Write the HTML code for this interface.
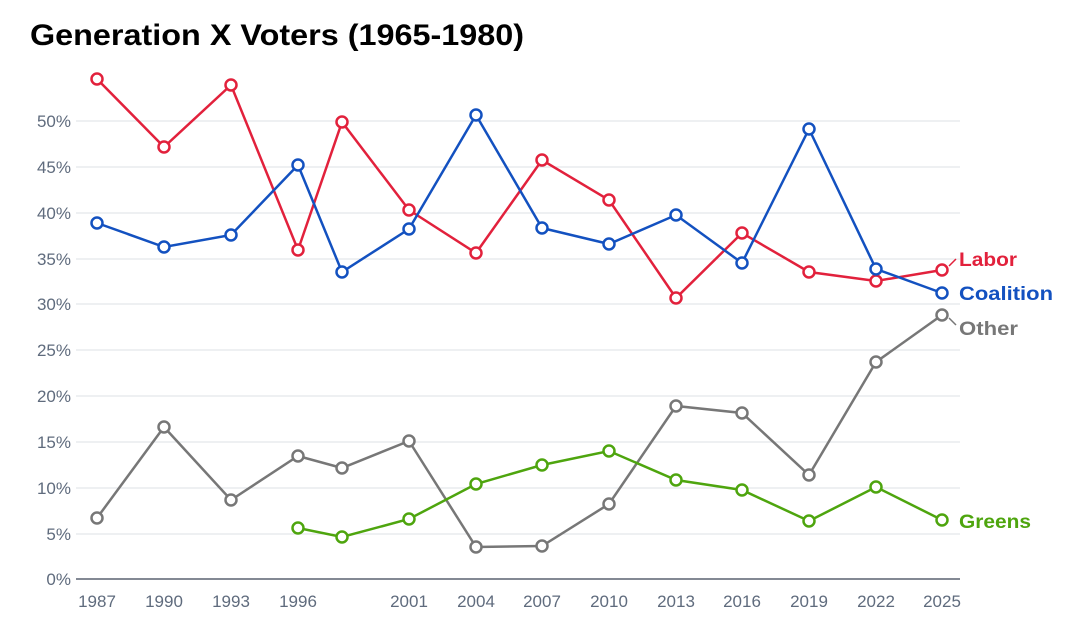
<!DOCTYPE html>
<html><head><meta charset="utf-8"><style>
html,body{margin:0;padding:0;background:#fff;}
svg{display:block;font-family:"Liberation Sans",sans-serif;}
</style></head><body>
<svg width="1080" height="630" viewBox="0 0 1080 630">
<text x="30" y="45" font-size="30" font-weight="bold" fill="#000" textLength="494" lengthAdjust="spacingAndGlyphs">Generation X Voters (1965-1980)</text>
<g stroke="#dde0e6" stroke-width="1">
<line x1="76" x2="960" y1="121" y2="121"/><line x1="76" x2="960" y1="167" y2="167"/>
<line x1="76" x2="960" y1="213" y2="213"/><line x1="76" x2="960" y1="259" y2="259"/>
<line x1="76" x2="960" y1="304" y2="304"/><line x1="76" x2="960" y1="350" y2="350"/>
<line x1="76" x2="960" y1="396" y2="396"/><line x1="76" x2="960" y1="442" y2="442"/>
<line x1="76" x2="960" y1="488" y2="488"/><line x1="76" x2="960" y1="534" y2="534"/>
</g>
<line x1="76" x2="960" y1="579" y2="579" stroke="#5a6270" stroke-width="1.5"/>
<g font-size="17" fill="#5f6b7d" text-anchor="end">
<text x="71" y="127">50%</text><text x="71" y="173">45%</text><text x="71" y="219">40%</text>
<text x="71" y="265">35%</text><text x="71" y="310">30%</text><text x="71" y="356">25%</text>
<text x="71" y="402">20%</text><text x="71" y="448">15%</text><text x="71" y="494">10%</text>
<text x="71" y="540">5%</text><text x="71" y="585">0%</text>
</g>
<g font-size="17" fill="#5f6b7d" text-anchor="middle">
<text x="97" y="607">1987</text><text x="164" y="607">1990</text><text x="231" y="607">1993</text>
<text x="298" y="607">1996</text><text x="409" y="607">2001</text><text x="476" y="607">2004</text>
<text x="542" y="607">2007</text><text x="609" y="607">2010</text><text x="676" y="607">2013</text>
<text x="742" y="607">2016</text><text x="809" y="607">2019</text><text x="876" y="607">2022</text>
<text x="942" y="607">2025</text>
</g>
<g fill="#fff" stroke-width="2.5">
<g stroke="#777">
<polyline fill="none" points="97,518 164,427 231,500 298,456 342,468 409,441 476,547 542,546 609,504 676,406 742,413 809,475 876,362 942,315"/>
<circle cx="97" cy="518" r="5.5"/><circle cx="164" cy="427" r="5.5"/><circle cx="231" cy="500" r="5.5"/><circle cx="298" cy="456" r="5.5"/><circle cx="342" cy="468" r="5.5"/><circle cx="409" cy="441" r="5.5"/><circle cx="476" cy="547" r="5.5"/><circle cx="542" cy="546" r="5.5"/><circle cx="609" cy="504" r="5.5"/><circle cx="676" cy="406" r="5.5"/><circle cx="742" cy="413" r="5.5"/><circle cx="809" cy="475" r="5.5"/><circle cx="876" cy="362" r="5.5"/><circle cx="942" cy="315" r="5.5"/>
</g>
<g stroke="#4ea50e">
<polyline fill="none" points="298,528 342,537 409,519 476,484 542,465 609,451 676,480 742,490 809,521 876,487 942,520"/>
<circle cx="298" cy="528" r="5.5"/><circle cx="342" cy="537" r="5.5"/><circle cx="409" cy="519" r="5.5"/><circle cx="476" cy="484" r="5.5"/><circle cx="542" cy="465" r="5.5"/><circle cx="609" cy="451" r="5.5"/><circle cx="676" cy="480" r="5.5"/><circle cx="742" cy="490" r="5.5"/><circle cx="809" cy="521" r="5.5"/><circle cx="876" cy="487" r="5.5"/><circle cx="942" cy="520" r="5.5"/>
</g>
<g stroke="#e2213c">
<polyline fill="none" points="97,79 164,147 231,85 298,250 342,122 409,210 476,253 542,160 609,200 676,298 742,233 809,272 876,281 942,270"/>
<circle cx="97" cy="79" r="5.5"/><circle cx="164" cy="147" r="5.5"/><circle cx="231" cy="85" r="5.5"/><circle cx="298" cy="250" r="5.5"/><circle cx="342" cy="122" r="5.5"/><circle cx="409" cy="210" r="5.5"/><circle cx="476" cy="253" r="5.5"/><circle cx="542" cy="160" r="5.5"/><circle cx="609" cy="200" r="5.5"/><circle cx="676" cy="298" r="5.5"/><circle cx="742" cy="233" r="5.5"/><circle cx="809" cy="272" r="5.5"/><circle cx="876" cy="281" r="5.5"/><circle cx="942" cy="270" r="5.5"/>
</g>
<g stroke="#1351c0">
<polyline fill="none" points="97,223 164,247 231,235 298,165 342,272 409,229 476,115 542,228 609,244 676,215 742,263 809,129 876,269 942,293"/>
<circle cx="97" cy="223" r="5.5"/><circle cx="164" cy="247" r="5.5"/><circle cx="231" cy="235" r="5.5"/><circle cx="298" cy="165" r="5.5"/><circle cx="342" cy="272" r="5.5"/><circle cx="409" cy="229" r="5.5"/><circle cx="476" cy="115" r="5.5"/><circle cx="542" cy="228" r="5.5"/><circle cx="609" cy="244" r="5.5"/><circle cx="676" cy="215" r="5.5"/><circle cx="742" cy="263" r="5.5"/><circle cx="809" cy="129" r="5.5"/><circle cx="876" cy="269" r="5.5"/><circle cx="942" cy="293" r="5.5"/>
</g>
</g>
<line x1="949" y1="266" x2="956" y2="259" stroke="#e2213c" stroke-width="1.5"/>
<line x1="949" y1="318" x2="956" y2="325" stroke="#777" stroke-width="1.5"/>
<g font-size="19" font-weight="bold">
<text x="959" y="266" fill="#e2213c" textLength="58" lengthAdjust="spacingAndGlyphs">Labor</text>
<text x="959" y="300" fill="#1351c0" textLength="94" lengthAdjust="spacingAndGlyphs">Coalition</text>
<text x="959" y="335" fill="#777" textLength="59" lengthAdjust="spacingAndGlyphs">Other</text>
<text x="959" y="528" fill="#4ea50e" textLength="72" lengthAdjust="spacingAndGlyphs">Greens</text>
</g>
</svg>
</body></html>
